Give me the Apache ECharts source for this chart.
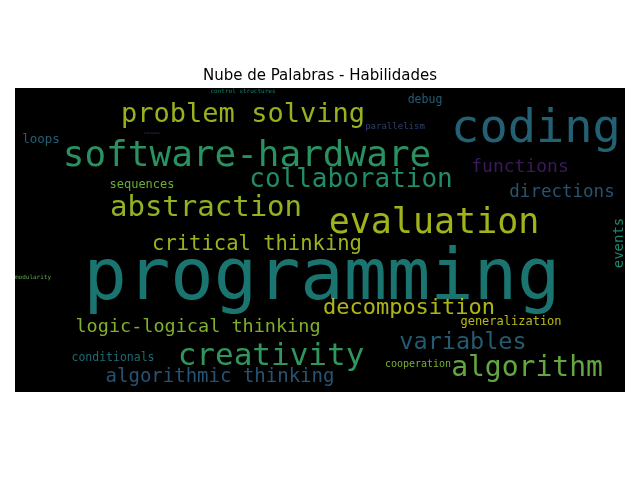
<!DOCTYPE html>
<html><head><meta charset="utf-8">
<script src="https://cdn.jsdelivr.net/npm/echarts@6/dist/echarts.min.js"></script>
<style>html,body{margin:0;padding:0;background:#fff}#c{width:640px;height:480px}</style>
</head><body><div id="c"></div>
<script>
const words = ["programming","coding","software-hardware","evaluation","problem solving","abstraction","collaboration","creativity","algorithm","decomposition","logic-logical thinking","critical thinking","variables","algorithmic thinking","functions","directions","events","generalization","cooperation","conditionals","sequences","loops","debug","parallelism","control structures","modularity","conceptos"];
const xs = [307,521,232,419,228,191,336,256,512,394,183,242,448,205,505,547,604,496,403,98,127,26,410,380,228,18,137];
const ys = [192,42,69,136,27,120,92,269,281,220,239,157,255,289,79,104,155,234,276,270,97,52,12,39,3,189,45];
const sizes = [72,47,36,35,27,29,26,31,28,22,18.5,20.5,23.5,19,18,17.5,14,12,10,11.5,12,12.5,11.5,9,6,6,3];
const colors = ["#21918c","#2a788e","#35b779","#c8e020","#bddf26","#b5de2b","#29af7f","#3dbc74","#7ad151","#d8e219","#a0da39","#c2df23","#2c728e","#31688e","#482173","#31688e","#22a884","#e5e419","#95d840","#25848e","#86d549","#2a788e","#2c728e","#3b528b","#1f9e89","#6ece58","#414487"];
const rot = [0,0,0,0,0,0,0,0,0,0,0,0,0,0,0,0,90,0,0,0,0,0,0,0,0,0,0];
const data = words.map((w,i)=>({name:w,value:[xs[i],ys[i]],label:{fontSize:sizes[i],color:colors[i],rotate:rot[i]}}));
const chart = echarts.init(document.getElementById('c'));
chart.setOption({
  title:{text:'Nube de Palabras - Habilidades',left:'center',top:64,textStyle:{fontFamily:'DejaVu Sans',fontWeight:'normal',fontSize:15,color:'#000'}},
  grid:{left:15,right:15,top:88,bottom:88,show:true,backgroundColor:'#000',borderWidth:0},
  xAxis:{type:'value',min:0,max:610,show:false},
  yAxis:{type:'value',min:0,max:304,inverse:true,show:false},
  series:[{type:'scatter',symbolSize:0,data:data,animation:false,
    label:{show:true,position:'inside',formatter:'{b}',fontFamily:'DejaVu Sans Mono'}}]
});
</script></body></html>
